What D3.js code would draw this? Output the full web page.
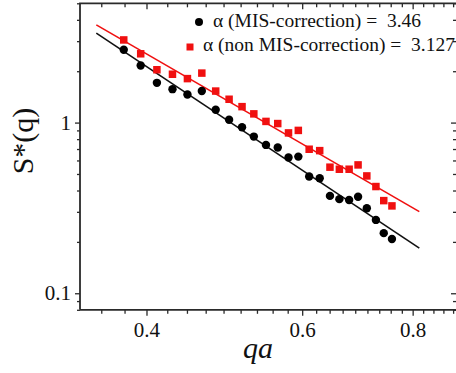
<!DOCTYPE html>
<html>
<head>
<meta charset="utf-8">
<script src="https://cdn.jsdelivr.net/npm/d3@7"></script>
<style>
  html, body { margin: 0; padding: 0; background: #fff; }
  svg { display: block; }
  text { font-family: "Liberation Serif", "Times New Roman", serif; fill: #111; }
</style>
</head>
<body>
<svg id="chart" width="456" height="373"></svg>
<script>
// ---- data ----
const qa = [0.377, 0.394, 0.411, 0.428, 0.445, 0.462, 0.479, 0.496, 0.513, 0.529, 0.546, 0.563,
            0.579, 0.594, 0.611, 0.628, 0.645, 0.661, 0.678, 0.694, 0.710, 0.727, 0.742, 0.758];
const sMIS = [2.67, 2.16, 1.71, 1.57, 1.46, 1.53, 1.19, 1.04, 0.940, 0.828, 0.740, 0.714,
              0.625, 0.632, 0.483, 0.472, 0.372, 0.356, 0.352, 0.368, 0.315, 0.269, 0.225, 0.208];
const sNonMIS = [3.05, 2.53, 2.04, 1.92, 1.81, 1.95, 1.53, 1.37, 1.24, 1.125, 1.016, 0.987,
                 0.870, 0.900, 0.698, 0.685, 0.548, 0.533, 0.533, 0.565, 0.487, 0.422, 0.349, 0.325];
// fitted power-law lines (end points)
const fitMIS = [[0.351, 3.34], [0.814, 0.184]];
const fitNonMIS = [[0.351, 3.74], [0.814, 0.301]];
const legendLabels = ["\u03b1 (MIS-correction) =  3.46", "\u03b1 (non MIS-correction) =  3.127"];
const xMajorTicks = [0.4, 0.6, 0.8];
const yMajorTicks = [0.1, 1];
const xLabel = "qa";
const yLabel = "S*(q)";

// ---- layout ----
const svg = d3.select("#chart");
const L = 80, R = 457, T = 3.3, B = 309.8;
const x = d3.scaleLog().domain([0.3364, 0.8956]).range([L, 456]);
const y = d3.scaleLog().domain([0.08, 5]).range([B, T]);
const axisColor = "#2a2a2a";
const red = "#f01010";

// minor ticks
const xMinor = [];
for (let i = -3; i <= 22; i++) {
  const v = 0.4 + i * 0.2 / 9;
  if (v > x.domain()[0] + 1e-6 && v < x.domain()[1] && !xMajorTicks.some(m => Math.abs(m - v) < 1e-6)) xMinor.push(v);
}
const yMinor = [];
[0.01, 0.1, 1].forEach(d => { for (let k = 2; k <= 9; k++) { const v = d * k; if (v >= 0.08 && v <= 5.0001) yMinor.push(v); } });

// axes via d3
svg.append("g").attr("transform", `translate(0,${B})`)
  .call(d3.axisBottom(x).tickValues(xMajorTicks).tickFormat(d3.format(".1f")).tickSize(6).tickPadding(6));
svg.append("g").attr("transform", `translate(0,${B})`)
  .call(d3.axisBottom(x).tickValues(xMinor).tickFormat("").tickSize(4));
svg.append("g").attr("transform", `translate(${L},0)`)
  .call(d3.axisLeft(y).tickValues(yMajorTicks).tickFormat(d => d === 1 ? "1" : "0.1").tickSize(5).tickPadding(4));
svg.append("g").attr("transform", `translate(${L},0)`)
  .call(d3.axisLeft(y).tickValues(yMinor).tickFormat("").tickSize(3));
// top (ticks inward)
svg.append("g").attr("transform", `translate(0,${T})`)
  .call(d3.axisTop(x).tickValues(xMajorTicks).tickFormat("").tickSize(-6));
svg.append("g").attr("transform", `translate(0,${T})`)
  .call(d3.axisTop(x).tickValues(xMinor).tickFormat("").tickSize(-4));
// right (ticks inward)
svg.append("g").attr("transform", `translate(${R},0)`)
  .call(d3.axisRight(y).tickValues(yMajorTicks).tickFormat("").tickSize(-6));
svg.append("g").attr("transform", `translate(${R},0)`)
  .call(d3.axisRight(y).tickValues(yMinor).tickFormat("").tickSize(-4));

svg.selectAll(".domain").remove();
svg.selectAll(".tick line").attr("stroke", axisColor).attr("stroke-width", 1.3);
svg.selectAll(".tick text").attr("fill", "#111").style("font-family", "Liberation Serif").style("font-size", "21px");

// frame
svg.append("path")
  .attr("d", `M${L},${B}H${R}M${L},${B}V${T}H${R}`)
  .attr("fill", "none").attr("stroke", axisColor).attr("stroke-width", 1.8);

// fit lines
const line = d3.line().x(d => x(d[0])).y(d => y(d[1]));
svg.append("path").datum(fitMIS).attr("d", line).attr("stroke", "#111").attr("stroke-width", 1.6).attr("fill", "none");
svg.append("path").datum(fitNonMIS).attr("d", line).attr("stroke", red).attr("stroke-width", 1.6).attr("fill", "none");

// points
const sq = 7.5;
svg.append("g").selectAll("rect").data(qa.map((q, i) => [q, sNonMIS[i]])).join("rect")
  .attr("x", d => x(d[0]) - sq / 2).attr("y", d => y(d[1]) - sq / 2)
  .attr("width", sq).attr("height", sq).attr("fill", red);
svg.append("g").selectAll("circle").data(qa.map((q, i) => [q, sMIS[i]])).join("circle")
  .attr("cx", d => x(d[0])).attr("cy", d => y(d[1])).attr("r", 4.2).attr("fill", "#000");

// legend
svg.append("circle").attr("cx", 199).attr("cy", 22).attr("r", 4).attr("fill", "#000");
svg.append("text").attr("x", 213).attr("y", 27).attr("xml:space", "preserve")
  .style("font-size", "19.5px").style("white-space", "pre").text(legendLabels[0]);
svg.append("rect").attr("x", 190 - 3.5).attr("y", 47 - 3.5).attr("width", 7).attr("height", 7).attr("fill", red);
svg.append("text").attr("x", 203).attr("y", 51).attr("xml:space", "preserve")
  .style("font-size", "19.5px").style("white-space", "pre").text(legendLabels[1]);

// axis titles
svg.append("text").attr("x", 258).attr("y", 358).attr("text-anchor", "middle")
  .style("font-size", "30px").style("font-style", "italic").text(xLabel);
svg.append("text").attr("transform", "translate(33,141) rotate(-90)").attr("text-anchor", "middle")
  .style("font-size", "30px").text(yLabel);
</script>
</body>
</html>
